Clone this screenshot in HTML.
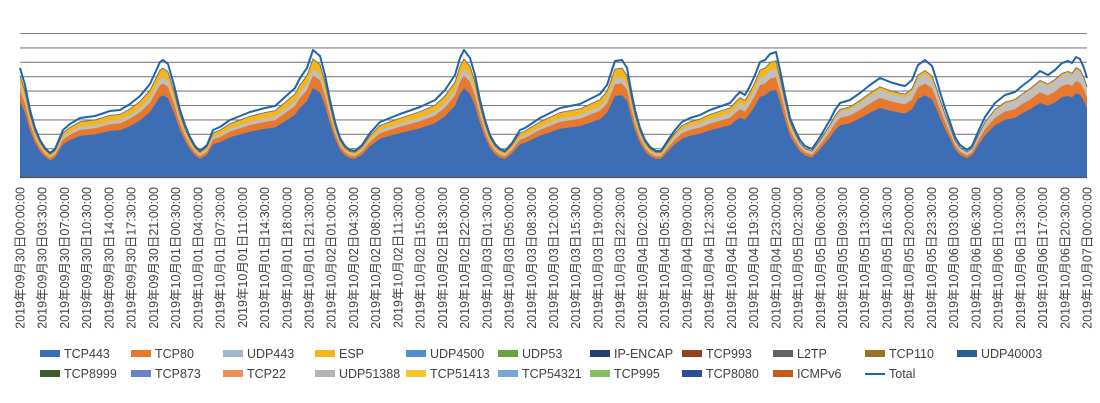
<!DOCTYPE html>
<html><head><meta charset="utf-8">
<style>
html,body{margin:0;padding:0;background:#fff;}
body{width:1100px;height:403px;overflow:hidden;position:relative;font-family:"Liberation Sans","Noto Sans CJK JP",sans-serif;}
svg{position:absolute;left:0;top:0;}
.lg{position:absolute;font-size:12.5px;color:#404040;white-space:nowrap;}
.lg i{display:inline-block;width:20px;height:7px;vertical-align:middle;margin-right:4px;position:relative;top:-1px;}
</style></head><body>
<svg id="c" width="1100" height="403" xmlns="http://www.w3.org/2000/svg"></svg>
<div id="leg"></div>
<script>
var NS="http://www.w3.org/2000/svg",svg=document.getElementById('c');
function el(t,a,p){var e=document.createElementNS(NS,t);for(var k in a)e.setAttribute(k,a[k]);(p||svg).appendChild(e);return e;}
var B=177.5,L=20,R=1087;
for(var i=0;i<10;i++){var y=33.5+i*14.4;el('line',{x1:L,x2:R,y1:y,y2:y,stroke:'#808080','stroke-width':1.1});}
var P=[[20,68],[25,85],[30,110],[35,128],[40,140],[45,148],[50,153],[55,149],[63,130],[70,124],[80,118],[95,116],[110,111],[120,110],[130,104],[140,96],[150,84],[155,73],[160,62],[163,60],[168,64],[174,85],[180,110],[185,125],[190,137],[195,146],[200,151],[207,145],[213,130],[220,127],[230,120],[240,116],[250,112],[265,108],[275,106],[285,97],[295,88],[300,78],[307,68],[313,50],[320,56],[325,75],[330,100],[335,122],[340,138],[345,146],[350,150],[355,151],[362,145],[370,133],[380,122],[390,118],[400,114],[420,107],[435,100],[445,90],[455,75],[460,58],[464,50],[470,58],[475,75],[480,100],[485,120],[490,135],[495,144],[500,149],[505,151],[512,143],[520,130],[525,128],[540,118],[560,108],[580,104],[600,94],[607,85],[612,70],[615,61],[622,60],[627,68],[631,90],[635,110],[640,128],[645,140],[650,147],[656,151],[661,151],[668,140],[675,130],[682,122],[690,118],[700,115],[710,110],[730,103],[736,96],[740,92],[745,95],[750,86],[755,75],[760,62],[765,60],[770,54],[776,52],[780,70],[785,95],[790,118],[795,130],[800,140],[805,146],[812,149],[820,137],[830,120],[835,110],[840,103],[850,100],[860,93],[870,85],[880,78],[890,82],[900,85],[905,86],[912,80],[918,65],[925,60],[932,66],[936,78],[940,92],[945,108],[950,122],[955,137],[960,145],[967,150],[972,146],[978,132],[985,117],[995,103],[1005,95],[1015,92],[1022,86],[1030,80],[1040,71],[1048,75],[1055,70],[1062,63],[1068,61],[1072,63],[1076,57],[1080,59],[1084,68],[1087,78]];
function yf(x){return x<650?0.075:(x<800?0.06:(x<960?0.025:0.012));}
function gap(x){return x<800?0.955:0.935;}
var layers=[
 {c:'#3d6db5',f:function(x){return 0.70;}},
 {c:'#e7792f',f:function(x){return 0.80;}},
 {c:'#bfbfbf',f:function(x){return gap(x)-0.03-yf(x);}},
 {c:'#f5b51c',f:function(x){return gap(x)-0.03;}}
];
function yat(p,fr){return B-(B-p[1])*fr;}
for(var j=layers.length-1;j>=0;j--){
 var d='M'+L+','+B;
 P.forEach(function(p){d+=' L'+p[0]+','+yat(p,layers[j].f(p[0])).toFixed(1);});
 d+=' L'+R+','+B+' Z';
 el('path',{d:d,fill:layers[j].c});
}
var d2='';P.forEach(function(p,i){d2+=(i?' L':'M')+p[0]+','+(yat(p,gap(p[0])-0.03)-0.6).toFixed(1);});
el('path',{d:d2,fill:'none',stroke:'#7a7060','stroke-width':1});
var d4='';P.forEach(function(p,i){d4+=(i?' L':'M')+p[0]+','+p[1];});
el('path',{d:d4,fill:'none',stroke:'#1f64ad','stroke-width':2,'stroke-linejoin':'round'});
el('line',{x1:L,x2:R,y1:B,y2:B,stroke:'#555','stroke-width':1.3});
function pad(n){return (n<10?'0':'')+n;}
for(var i=0;i<49;i++){
 var m=i*210,day=30+Math.floor(m/1440),mo=9;var mm=m%1440;
 if(day>30){day-=30;mo=10;}
 var s='2019年'+pad(mo)+'月'+pad(day)+'日'+pad(Math.floor(mm/60))+':'+pad(mm%60)+':00';
 var x=L+i*(R-L)/48+4.5;
 var t=el('text',{x:0,y:0,transform:'translate('+x.toFixed(1)+',187) rotate(-90)','text-anchor':'end','font-size':'12.5px',fill:'#404040','font-family':'"Liberation Sans","Noto Sans CJK JP",sans-serif'});
 t.textContent=s;
}
var lg=[['TCP443','#3d6db5'],['TCP80','#e7792f'],['UDP443','#a5b4ca'],['ESP','#f5b51c'],['UDP4500','#4f8fcc'],['UDP53','#6aa241'],['IP-ENCAP','#213f75'],['TCP993','#96401f'],['L2TP','#636363'],['TCP110','#967424'],['UDP40003','#2a5d93'],
['TCP8999','#3a5d2a'],['TCP873','#6585c6'],['TCP22','#ec8f57'],['UDP51388','#b4b4b4'],['TCP51413','#f7c531'],['TCP54321','#74a6d8'],['TCP995','#86bd5f'],['TCP8080','#274f96'],['ICMPv6','#c9591a'],['Total','line']];
var xs=[40,131,223,315,406,498,590,682,773,865,957];
var h='';
lg.forEach(function(e,i){var r=Math.floor(i/11),c=i%11;
 var sw=e[1]=='line'?'<i style="height:2px;background:#1f64ad;top:-1px"></i>':'<i style="background:'+e[1]+'"></i>';
 h+='<div class="lg" style="left:'+xs[c]+'px;top:'+(347+r*20)+'px">'+sw+e[0]+'</div>';});
document.getElementById('leg').innerHTML=h;
</script>
</body></html>
